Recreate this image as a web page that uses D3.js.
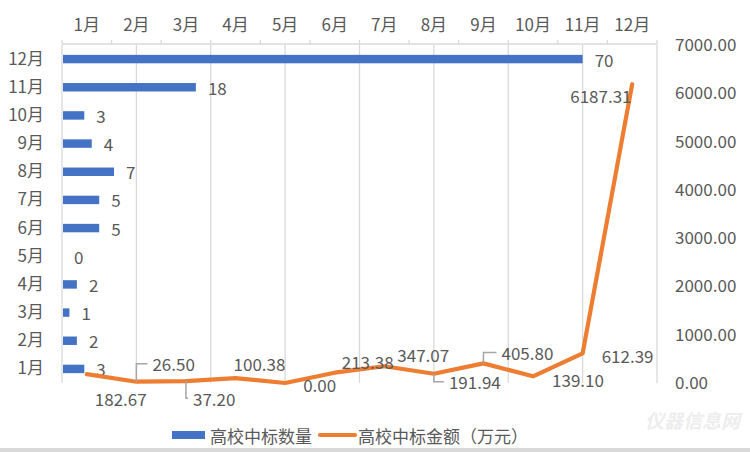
<!DOCTYPE html>
<html><head><meta charset="utf-8">
<script src="https://cdn.jsdelivr.net/npm/d3@7"></script>
<style>
html,body{margin:0;padding:0;background:#fff;}
svg text{font-family:"Noto Sans CJK SC","Noto Sans",sans-serif;fill:#595959;}
</style></head>
<body>
<svg id="chart" width="750" height="452"></svg>
<script>
const months = ["1月","2月","3月","4月","5月","6月","7月","8月","9月","10月","11月","12月"];
const counts = [3,2,1,2,0,5,5,7,4,3,18,70];
const amounts = [182.67,26.50,37.20,100.38,0.00,213.38,347.07,191.94,405.80,139.10,612.39,6187.31];
const amountTicks = [0,1000,2000,3000,4000,5000,6000,7000];
const seriesNames = ["高校中标数量","高校中标金额（万元）"];

// label layout (offsets from point, pixels): [dx, dy, leader type]
const labelLayout = [
  {dx:8,dy:24,lead:null},
  {dx:16,dy:-18,lead:"up"},
  {dx:7,dy:17,lead:"down"},
  {dx:-2,dy:-15,lead:null},
  {dx:18,dy:1,lead:null},
  {dx:7,dy:-11,lead:null},
  {dx:13,dy:-12,lead:null},
  {dx:15,dy:8,lead:"down"},
  {dx:18,dy:-11,lead:"up"},
  {dx:19,dy:3,lead:null},
  {dx:19,dy:2,lead:null},
  {dx:-62,dy:11,lead:null}
];

const svg = d3.select("#chart");
const L = 62, R = 657, T = 45, B = 383;
const blue = "#4472C4", orange = "#ED7D31", grid = "#d9d9d9", txt = "#595959";
const fs = 17;

const xBar = d3.scaleLinear().domain([0,80]).range([L,R]);
const yBand = d3.scaleBand().domain(months).range([B,T]).paddingInner(0.7).paddingOuter(0.35);
const xTop = d3.scaleBand().domain(months).range([L,R]);
const yRight = d3.scaleLinear().domain([0,7000]).range([B,T]);

// vertical gridlines
svg.append("g").selectAll("line").data(xBar.ticks(8)).join("line")
  .attr("x1",d=>xBar(d)).attr("x2",d=>xBar(d)).attr("y1",T).attr("y2",B)
  .attr("stroke",grid).attr("stroke-width",1.3);

// top axis line and ticks
const topG = svg.append("g");
topG.append("line").attr("x1",L).attr("x2",R).attr("y1",T-1).attr("y2",T-1).attr("stroke",grid).attr("stroke-width",1.3);
const edges = months.map(m=>xTop(m)).concat([xTop.range()[1]]);
topG.selectAll("line.tk").data(edges).join("line").attr("class","tk")
  .attr("x1",d=>d).attr("x2",d=>d).attr("y1",T-1).attr("y2",T-5)
  .attr("stroke",grid).attr("stroke-width",1.3);
const axTop = svg.append("g").attr("transform",`translate(0,${T-14})`)
  .call(d3.axisTop(xTop).tickSize(0).tickPadding(0));
axTop.select(".domain").remove();
axTop.selectAll("text").attr("font-size",fs).attr("fill",txt).style("font-family",null);

// left axis
const axL = svg.append("g").attr("transform",`translate(${L-18},0)`)
  .call(d3.axisLeft(yBand).tickSize(0).tickPadding(0));
axL.select(".domain").remove();
axL.selectAll("text").attr("font-size",fs).attr("fill",txt).style("font-family",null);

// right axis
const axR = svg.append("g").attr("transform",`translate(${R+18},0)`)
  .call(d3.axisRight(yRight).tickValues(amountTicks).tickFormat(d3.format(".2f")).tickSize(0).tickPadding(0));
axR.select(".domain").remove();
axR.selectAll("text").attr("font-size",fs).attr("fill",txt).style("font-family",null);

// bars
svg.append("g").selectAll("rect").data(months).join("rect")
  .attr("x",xBar(0)+1).attr("y",d=>yBand(d))
  .attr("width",(d,i)=>Math.max(0,xBar(counts[i])-xBar(0)-1))
  .attr("height",yBand.bandwidth()).attr("fill",blue);
svg.append("g").selectAll("text").data(months).join("text")
  .attr("x",(d,i)=>xBar(counts[i])+12).attr("y",d=>yBand(d)+yBand.bandwidth()/2)
  .attr("dominant-baseline","central").attr("font-size",fs)
  .text((d,i)=>counts[i]);

// line
const px = m=>xTop(m)+xTop.bandwidth()/2;
const line = d3.line().x((d,i)=>px(months[i])).y(d=>yRight(d));
svg.append("path").datum(amounts).attr("d",line).attr("fill","none")
  .attr("stroke",orange).attr("stroke-width",4.2).attr("stroke-linejoin","round").attr("stroke-linecap","round");

// leaders
const lg = svg.append("g");
amounts.forEach((v,i)=>{
  const lay = labelLayout[i]; if(!lay.lead) return;
  const x0 = px(months[i]), y0 = yRight(v), ly = y0+lay.dy;
  lg.append("path").attr("d",`M${x0},${y0}L${x0},${ly}L${x0+lay.dx-5},${ly}`)
    .attr("fill","none").attr("stroke","#a6a6a6").attr("stroke-width",1.5);
});
svg.append("g").selectAll("text").data(amounts).join("text")
  .attr("x",(d,i)=>px(months[i])+labelLayout[i].dx)
  .attr("y",(d,i)=>yRight(d)+labelLayout[i].dy)
  .attr("dominant-baseline","central").attr("font-size",fs)
  .text(d=>d3.format(".2f")(d));

// legend
const leg = svg.append("g");
leg.append("rect").attr("x",172).attr("y",431).attr("width",33).attr("height",8).attr("fill",blue);
leg.append("text").attr("x",210).attr("y",435).attr("dominant-baseline","central").attr("font-size",fs).text(seriesNames[0]);
leg.append("line").attr("x1",320).attr("x2",355).attr("y1",435).attr("y2",435).attr("stroke",orange).attr("stroke-width",4.2).attr("stroke-linecap","round");
leg.append("text").attr("x",358).attr("y",435).attr("dominant-baseline","central").attr("font-size",fs).text(seriesNames[1]);

// watermark
svg.append("text").attr("x",645).attr("y",428).attr("font-size",19).attr("font-weight","bold")
  .attr("font-style","italic").style("fill","#ededed").text("仪器信息网");

// bottom border band
svg.append("rect").attr("x",0).attr("y",448).attr("width",750).attr("height",4).attr("fill","#d9d9d9");
</script>
</body></html>
